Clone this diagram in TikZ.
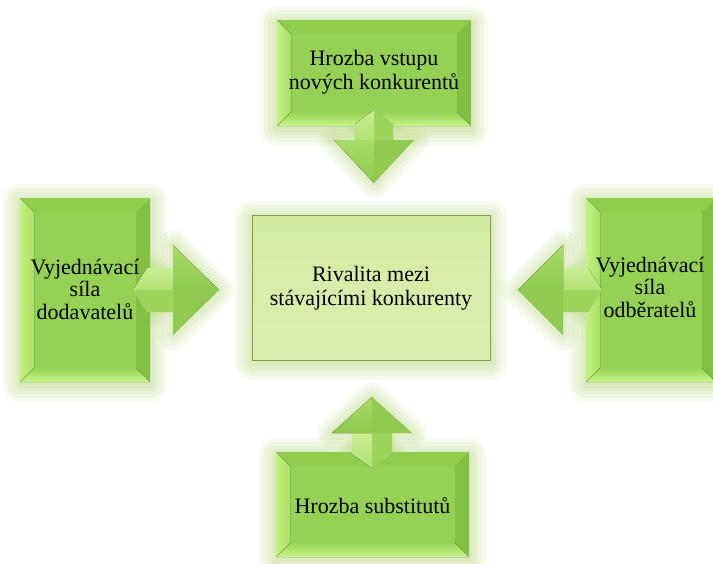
\documentclass[tikz,border=0pt]{standalone}
\usepackage{fontspec}
\setmainfont{Liberation Serif}
\usetikzlibrary{calc}
\definecolor{glowc}{RGB}{185,215,125}
\definecolor{face}{RGB}{148,209,84}
\definecolor{bvtopc}{RGB}{142,205,78}
\definecolor{bvlefta}{RGB}{196,242,128}
\definecolor{bvleftb}{RGB}{166,224,102}
\definecolor{bvrightc}{RGB}{130,192,68}
\definecolor{bvbota}{RGB}{150,210,86}
\definecolor{bvbotb}{RGB}{200,246,134}
\definecolor{cenfill}{RGB}{212,235,162}
\definecolor{cenfillb}{RGB}{220,239,176}
\definecolor{cenedge}{RGB}{125,157,70}
\definecolor{arrbase}{RGB}{160,216,98}
\definecolor{arrup}{RGB}{200,238,146}
\definecolor{arrupb}{RGB}{176,226,116}
\definecolor{arrlow}{RGB}{156,212,92}
\definecolor{arrheadu}{RGB}{168,220,106}
\definecolor{arrheadub}{RGB}{140,200,78}
\definecolor{arrheadl}{RGB}{144,202,80}
\newcommand\bv{14}
\newcommand\bevelbox[1]{%
 \fill[bvtopc] (#1.north west) -- (#1.north east) -- ($(#1.north east)+(-\bv,\bv)$) -- ($(#1.north west)+(\bv,\bv)$) -- cycle;
 \fill[left color=bvlefta, right color=bvleftb] (#1.north west) -- ($(#1.north west)+(\bv,\bv)$) -- ($(#1.south west)+(\bv,-\bv)$) -- (#1.south west) -- cycle;
 \fill[bvrightc] (#1.north east) -- ($(#1.north east)+(-\bv,\bv)$) -- ($(#1.south east)+(-\bv,-\bv)$) -- (#1.south east) -- cycle;
 \fill[top color=bvbota, bottom color=bvbotb] (#1.south west) -- ($(#1.south west)+(\bv,-\bv)$) -- ($(#1.south east)+(-\bv,-\bv)$) -- (#1.south east) -- cycle;}
\newcommand\boxglow[1]{%
 \foreach \w in {34,26,18,11,5}
  \draw[glowc, line width=\w pt, opacity=.12, line join=round] ($(#1.north west)+(0,3)$) rectangle ($(#1.south east)+(0,3)$);}
% #1 tip, #2 x vec, #3 y vec, #4 back, #5 head length, #6 head half width, #7 shaft half width
\newcommand\arrowglow[7]{%
 \begin{scope}[shift={(#1)}, x={#2}, y={#3}]
 \foreach \w in {30,22,14,7}
  \draw[glowc, line width=\w pt, opacity=.12, line join=round] (-#4,0) -- (-#4+14,-#7) -- (-#5,-#7) -- (-#5,-#6) -- (0,0) -- (-#5,#6) -- (-#5,#7) -- (-#4+14,#7) -- cycle;
 \end{scope}}
\newcommand\arrowbody[7]{%
 \begin{scope}[shift={(#1)}, x={#2}, y={#3}]
 \fill[arrbase] (-#4,0) -- (-#4+14,-#7) -- (-#5,-#7) -- (-#5,-#6) -- (0,0) -- (-#5,#6) -- (-#5,#7) -- (-#4+14,#7) -- cycle;
 \fill[top color=arrup, bottom color=arrupb] (-#4,0) -- (-#4+14,-#7) -- (-#5,-#7) -- (-#5,0) -- cycle;
 \fill[arrlow] (-#4,0) -- (-#4+14,#7) -- (-#5,#7) -- (-#5,0) -- cycle;
 \fill[top color=arrheadu, bottom color=arrheadub] (-#5,-#6) -- (0,0) -- (-#5,0) -- cycle;
 \fill[arrheadl] (-#5,#6) -- (0,0) -- (-#5,0) -- cycle;
 \end{scope}}
\tikzset{
 boxshape/.style={rectangle, fill=face, inner sep=0pt, outer sep=0pt},
 cenbox/.style={rectangle, top color=cenfill, bottom color=cenfillb, draw=cenedge, line width=1pt, inner sep=0pt, outer sep=0pt, minimum width=238pt, minimum height=145pt},
 lbl/.style={align=center, text=black, inner sep=0pt, font=\fontsize{22}{24.5}\selectfont},
 lbls/.style={align=center, text=black, inner sep=0pt, font=\fontsize{22}{22.5}\selectfont}
}
\begin{document}
\begin{tikzpicture}[x=1pt,y=-1pt]
\useasboundingbox (0,0) rectangle (713,563);
\fill[white] (0,0) rectangle (713,563);
% box frames (no text)
\path node[boxshape, minimum width=194pt, minimum height=106pt] (ntop) at (374,73) {}
      node[boxshape, minimum width=130pt, minimum height=184pt] (nleft) at (85,290) {}
      node[boxshape, minimum width=130pt, minimum height=184pt] (nright) at (651,290) {}
      node[boxshape, minimum width=193pt, minimum height=105pt] (nbot) at (372.5,504.5) {};
\coordinate (tipL) at (219,290);
\coordinate (tipR) at (518,290);
\coordinate (tipT) at (374,183);
\coordinate (tipB) at (372,397);
\coordinate (cc) at (371,287.5);
% glows
\fill[white] (0,0) rectangle (713,563);
\boxglow{ntop}\boxglow{nleft}\boxglow{nright}\boxglow{nbot}
\foreach \w in {34,26,18,11,5}
  \draw[glowc, line width=\w pt, opacity=.12, line join=round] (252,218) rectangle (490,363);
\arrowglow{tipL}{(1pt,0pt)}{(0pt,-1pt)}{86}{46}{45}{22}
\arrowglow{tipR}{(-1pt,0pt)}{(0pt,-1pt)}{84}{45}{45}{22}
\arrowglow{tipT}{(0pt,-1pt)}{(1pt,0pt)}{73}{43}{40}{19}
\arrowglow{tipB}{(0pt,1pt)}{(1pt,0pt)}{71}{36}{40}{20}
% boxes
\node[boxshape, minimum width=194pt, minimum height=106pt] at (ntop) {};
\node[boxshape, minimum width=130pt, minimum height=184pt] at (nleft) {};
\node[boxshape, minimum width=130pt, minimum height=184pt] at (nright) {};
\node[boxshape, minimum width=193pt, minimum height=105pt] at (nbot) {};
\bevelbox{ntop}\bevelbox{nleft}\bevelbox{nright}\bevelbox{nbot}
\node[cenbox] (ncen) at (cc) {};
% arrows
\arrowbody{tipL}{(1pt,0pt)}{(0pt,-1pt)}{86}{46}{45}{22}
\arrowbody{tipR}{(-1pt,0pt)}{(0pt,-1pt)}{84}{45}{45}{22}
\arrowbody{tipT}{(0pt,-1pt)}{(1pt,0pt)}{73}{43}{40}{19}
\arrowbody{tipB}{(0pt,1pt)}{(1pt,0pt)}{71}{36}{40}{20}
% labels
\node[lbl] (ttop) at (374,72) {Hrozba vstupu\\nových konkurentů};
\node[lbls] (tleft) at (85,289) {Vyjednávací\\síla\\dodavatelů};
\node[lbls] (tright) at (650,287) {Vyjednávací\\síla\\odběratelů};
\node[lbl] (tcen) at (371,288) {Rivalita mezi\\stávajícími konkurenty};
\node[lbl] (tbot) at (372.5,506) {Hrozba substitutů};
\end{tikzpicture}
\end{document}
